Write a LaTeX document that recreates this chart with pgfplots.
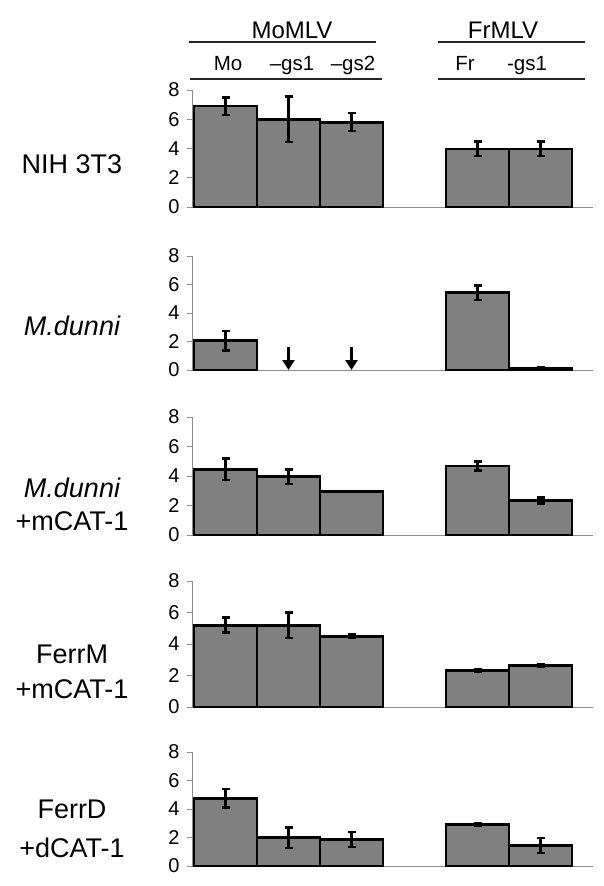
\documentclass[border=0pt]{standalone}
\usepackage{fontspec}
\setmainfont{Liberation Sans}
\usepackage{pgfplots}
\pgfplotsset{compat=1.18}
\usetikzlibrary{arrows.meta}
\definecolor{barfill}{HTML}{808080}
\definecolor{axisgray}{HTML}{8C8C8C}

\pgfplotsset{
  panel/.style={
    scale only axis, width=401pt,
    xmin=-0.532, xmax=5.833, ymin=0, ymax=8,
    xtick=\empty, ytick={0,2,4,6,8},
    axis x line*=bottom, axis y line*=left,
    axis line style={-, axisgray, line width=0.8pt},
    tick align=outside, major tick length=5pt,
    tick style={axisgray, line width=0.8pt},
    yticklabel style={font=\fontsize{20}{20}\selectfont, xshift=-4pt},
    /pgf/number format/assume math mode=true,
    clip=false,
  },
  bars/.style={ybar, bar width=1, bar shift=0pt, fill=barfill, draw=black, line width=2.8pt,
    error bars/.cd, y dir=both, y explicit,
    error bar style={line width=2.4pt, black},
    error mark options={rotate=90, mark size=4pt, line width=2.4pt, black}},
}

\begin{document}
\begin{tikzpicture}
\path[use as bounding box] (0,0) rectangle (604pt,-886pt);

% header
\node[anchor=base, font=\fontsize{24}{24}\selectfont] at (292pt,-38pt) {MoMLV};
\node[anchor=base, font=\fontsize{24}{24}\selectfont] at (503pt,-38pt) {FrMLV};
\draw[black!85, line width=1.2pt] (189pt,-42pt) -- (376pt,-42pt);
\draw[black!85, line width=1.2pt] (438pt,-42pt) -- (585pt,-42pt);
\node[anchor=base, font=\fontsize{20.5}{20.5}\selectfont] at (228pt,-70pt) {Mo};
\node[anchor=base, font=\fontsize{20.5}{20.5}\selectfont] at (292pt,-70pt) {--gs1};
\node[anchor=base, font=\fontsize{20.5}{20.5}\selectfont] at (353pt,-70pt) {--gs2};
\node[anchor=base, font=\fontsize{20.5}{20.5}\selectfont] at (465pt,-70pt) {Fr};
\node[anchor=base, font=\fontsize{20.5}{20.5}\selectfont] at (527pt,-70pt) {-gs1};
\draw[black!85, line width=1.2pt] (190pt,-79pt) -- (382pt,-79pt);
\draw[black!85, line width=1.2pt] (438pt,-79pt) -- (585pt,-79pt);

% row labels
\begin{scope}[every node/.style={anchor=base, font=\fontsize{27}{27}\selectfont}]
\node at (72pt,-173pt) {NIH 3T3};
\node at (72pt,-335pt) {\itshape M.dunni};
\node at (72pt,-497pt) {\itshape M.dunni};
\node at (72pt,-530pt) {+mCAT-1};
\node at (72pt,-663pt) {FerrM};
\node at (72pt,-698pt) {+mCAT-1};
\node at (72pt,-818pt) {FerrD};
\node at (72pt,-857pt) {+dCAT-1};
\end{scope}

% NIH 3T3
\begin{axis}[panel, height=117pt, at={(192pt,-207pt)}, anchor=south west]
\addplot[bars] coordinates {(0,6.9) +- (0,0.6) (1,6.0) +- (0,1.55) (2,5.8) +- (0,0.62) (4,3.97) +- (0,0.5) (5,3.97) +- (0,0.5)};
\end{axis}

% M.dunni
\begin{axis}[panel, height=114pt, at={(192pt,-370pt)}, anchor=south west]
\addplot[bars] coordinates {(0,2.05) +- (0,0.67) (4,5.43) +- (0,0.5) (5,0.13) +- (0,0.05)};
\addplot[black, line width=2.4pt, no marks, quiver={u=0, v=-1.6}, -{Triangle[length=10pt, width=12pt]}] coordinates {(1,1.6) (2,1.6)};
\end{axis}

% M.dunni +mCAT-1
\begin{axis}[panel, height=118pt, at={(192pt,-535pt)}, anchor=south west]
\addplot[bars] coordinates {(0,4.46) +- (0,0.73) (1,3.94) +- (0,0.5) (2,2.95) +- (0,0.04) (4,4.68) +- (0,0.3) (5,2.34) +- (0,0.2)};
\end{axis}

% FerrM +mCAT-1
\begin{axis}[panel, height=126pt, at={(192pt,-707pt)}, anchor=south west]
\addplot[bars] coordinates {(0,5.2) +- (0,0.48) (1,5.2) +- (0,0.8) (2,4.5) +- (0,0.1) (4,2.32) +- (0,0.08) (5,2.62) +- (0,0.07)};
\end{axis}

% FerrD +dCAT-1
\begin{axis}[panel, height=114pt, at={(192pt,-866pt)}, anchor=south west]
\addplot[bars] coordinates {(0,4.76) +- (0,0.66) (1,1.98) +- (0,0.73) (2,1.86) +- (0,0.52) (4,2.91) +- (0,0.1) (5,1.45) +- (0,0.52)};
\end{axis}
\end{tikzpicture}
\end{document}
